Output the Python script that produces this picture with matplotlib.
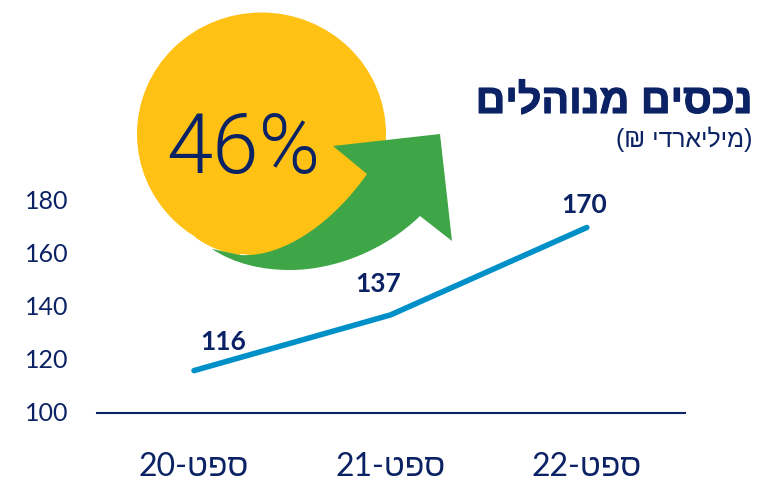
import matplotlib
matplotlib.use("Agg")
import matplotlib.pyplot as plt
from matplotlib.path import Path
from matplotlib.patches import PathPatch, Ellipse
from matplotlib.transforms import Affine2D, ScaledTranslation
import matplotlib.patheffects as pe

W, H = 781, 481
categories = ["ספט-20", "ספט-21", "ספט-22"]
values = [116, 137, 170]
yticks = [100, 120, 140, 160, 180]
title = "נכסים מנוהלים"
subtitle_word = "מיליארדי"
pct = "46%"

NAVY = "#0B2265"
BLUE = "#0090C8"
YELLOW = "#FFC114"
GREEN = "#3FA648"
FONT = ["Lato", "Open Sans", "Liberation Sans", "DejaVu Sans"]
HEB = ["Lato", "Liberation Sans", "DejaVu Sans"]
plt.rcParams["font.family"] = FONT

def vis_cat(s):
    word, num = s.split("-")
    return num + "-" + word[::-1]

fig = plt.figure(figsize=(W / 100, H / 100), dpi=100)
ax = fig.add_axes([97 / W, 1 - 414 / H, (685 - 97) / W, (414 - 202) / H])
ax.set_xlim(-0.494, 2.5)
ax.set_ylim(100, 180)
for s in ["top", "left", "right"]:
    ax.spines[s].set_visible(False)
ax.spines["bottom"].set_color(NAVY)
ax.spines["bottom"].set_linewidth(1.5)
ax.patch.set_visible(False)

ax.plot(range(3), values, color=BLUE, lw=4, solid_capstyle="round", clip_on=False, zorder=3)
ax.set_yticks(yticks)
ax.set_yticklabels([str(v) for v in yticks], fontsize=18, color=NAVY, family=HEB)
ax.set_xticks(range(3))
ax.set_xticklabels([vis_cat(c) for c in categories], fontsize=23, color=NAVY, family=HEB)
ax.tick_params(axis="y", length=0, pad=20.3)
ax.tick_params(axis="x", length=0, pad=27.5)
shift = ScaledTranslation(0, 0.02, fig.dpi_scale_trans)
for lab in ax.get_yticklabels():
    lab.set_transform(lab.get_transform() + shift)

offs = [(29, 30), (-12, 32), (-3, 23)]
for i, (v, o) in enumerate(zip(values, offs)):
    ax.annotate(str(v), (i, v), xytext=o, textcoords="offset pixels", ha="center", va="center",
                fontsize=19, fontweight="bold", color=NAVY, family=FONT)

# pixel-coordinate overlay for the graphic
px = Affine2D().scale(1 / W, -1 / H).translate(0, 1) + fig.transFigure
fig.add_artist(Ellipse((261.5, 135), 249, 243, facecolor=YELLOW, edgecolor="none", transform=px, zorder=1))
yv = [(195, 238), (205, 246), (222, 254), (240, 256), (262, 230), (195, 238)]
yc = [Path.MOVETO, Path.CURVE4, Path.CURVE4, Path.CURVE4, Path.LINETO, Path.CLOSEPOLY]
fig.add_artist(PathPatch(Path(yv, yc), facecolor=YELLOW, edgecolor="none", transform=px, zorder=1))
verts = [(333, 147), (440, 135), (452, 242), (420, 217),
         (385, 251), (335, 271), (290, 271),
         (262, 271), (235, 265), (212, 250),
         (240, 256),
         (285, 259), (335, 221), (367, 175),
         (333, 147)]
codes = [Path.MOVETO, Path.LINETO, Path.LINETO, Path.LINETO,
         Path.CURVE4, Path.CURVE4, Path.CURVE4,
         Path.CURVE4, Path.CURVE4, Path.CURVE4,
         Path.LINETO,
         Path.CURVE4, Path.CURVE4, Path.CURVE4,
         Path.CLOSEPOLY]
fig.add_artist(PathPatch(Path(verts, codes), facecolor=GREEN, edgecolor="none", transform=px, zorder=2))

fig.text(243 / W, 1 - 150 / H, pct, fontsize=60, fontweight=300, color=NAVY,
         ha="center", va="center", family=["Roboto", "DejaVu Sans"], zorder=4)
t = fig.text(752 / W, 1 - 103 / H, title[::-1], fontsize=29.7, fontweight="bold", color=NAVY,
             ha="right", va="center", family=["Liberation Sans", "DejaVu Sans"], zorder=4)
t.set_path_effects([pe.withStroke(linewidth=0.8, foreground=NAVY)])
fig.text(752 / W, 1 - 139.5 / H, "(₪ " + subtitle_word[::-1] + ")", fontsize=17.8, color=NAVY,
         ha="right", va="center", family=["Liberation Sans", "DejaVu Sans"], zorder=4)

fig.savefig("out.png", dpi=100)
